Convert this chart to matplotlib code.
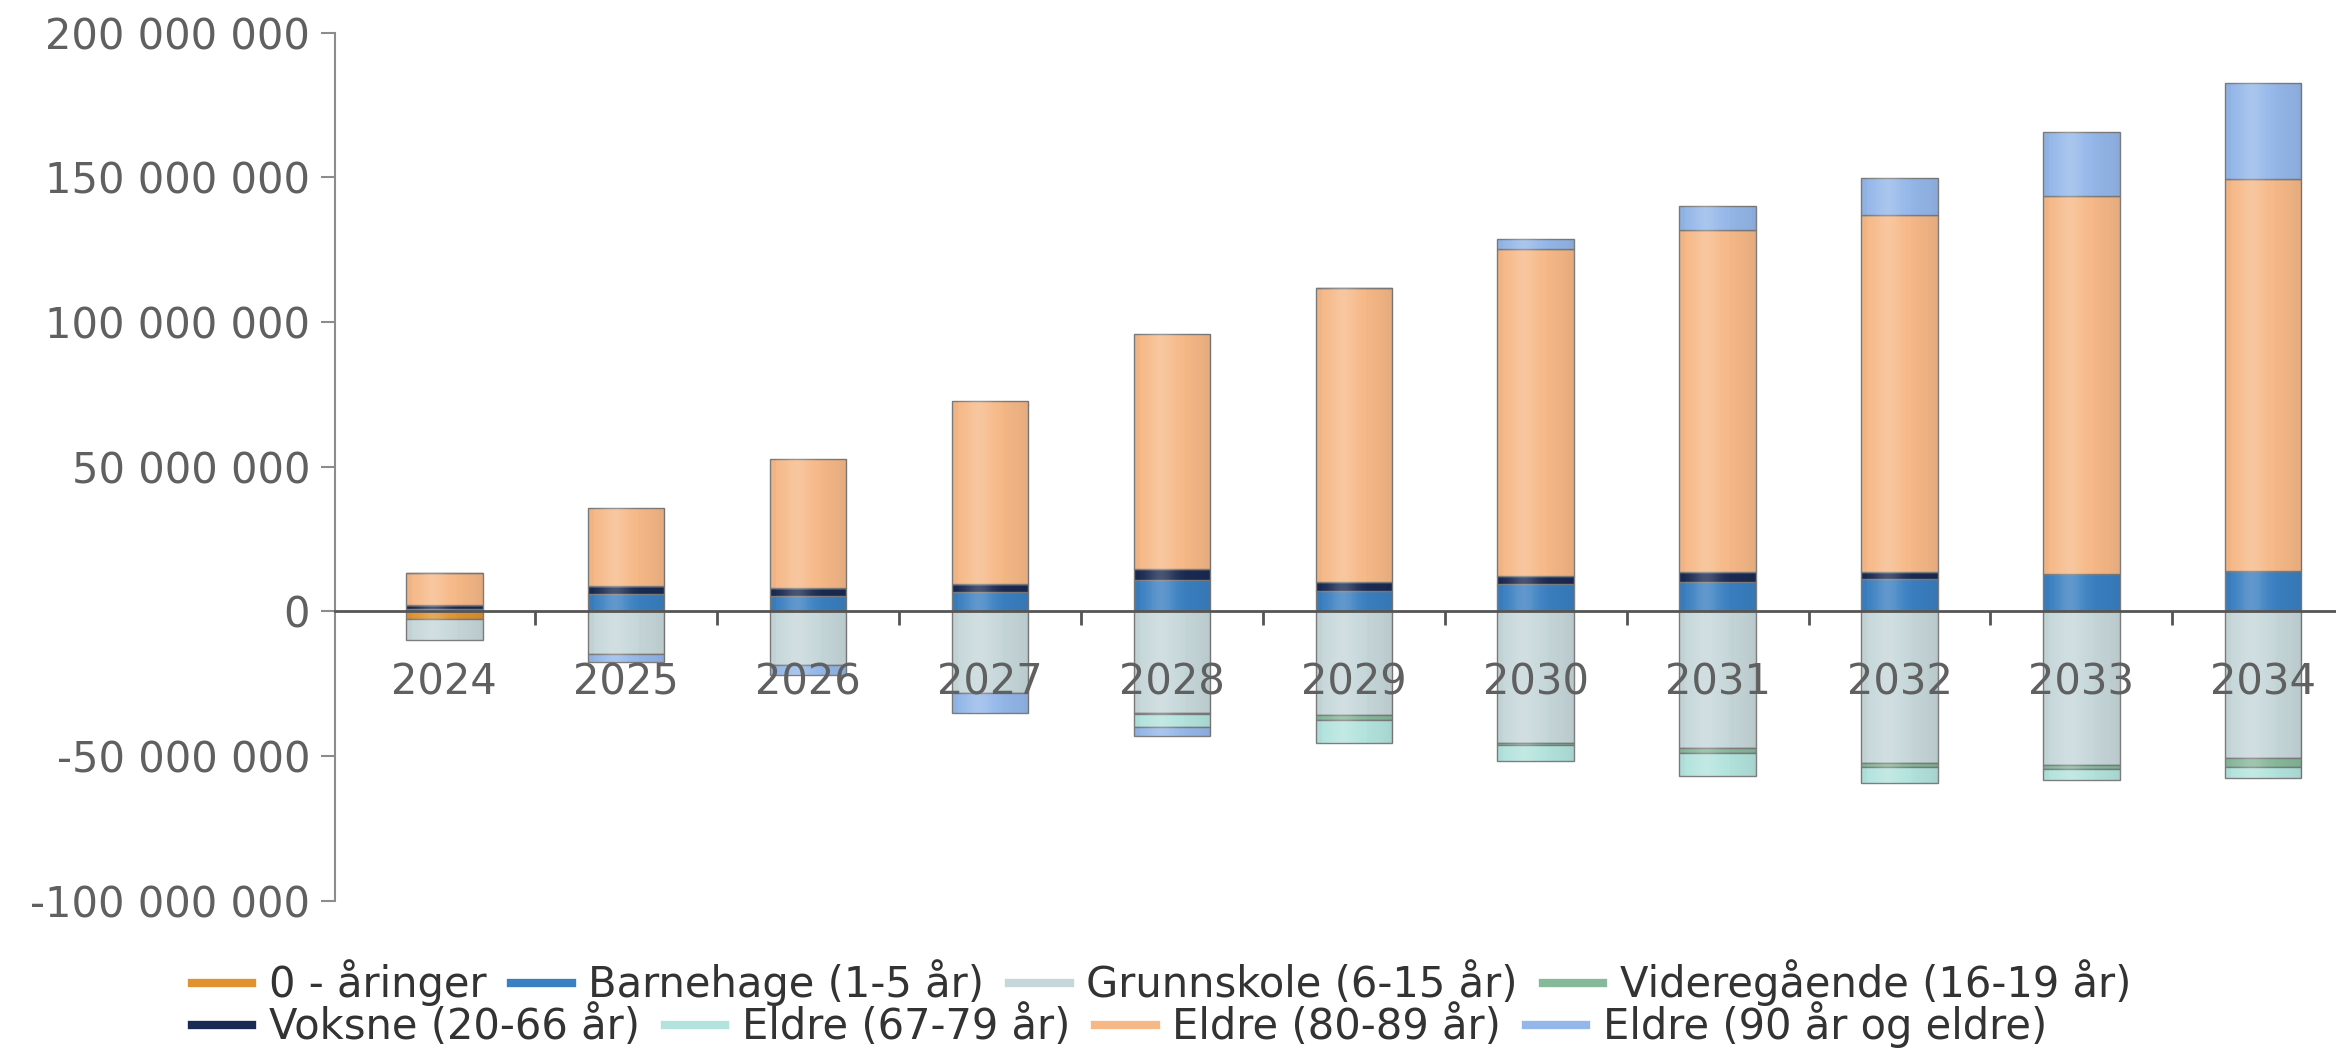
import numpy as np
import matplotlib.pyplot as plt
from matplotlib.ticker import FuncFormatter, FixedLocator
from matplotlib.lines import Line2D

plt.rcParams['font.family'] = ['DejaVu Sans']

# ------------------------------------------------------------------------------
# D A T A  (mill.)
years = ['2024', '2025', '2026', '2027', '2028', '2029', '2030', '2031', '2032', '2033', '2034']

null_aar = [-2.5, 0, 0, 0, 0, 0, 0, 0, 0, 0, 0]
barnehage = [0.8, 6.1, 5.5, 6.7, 10.7, 7.2, 9.5, 10.1, 11.2, 13.0, 14.1]
grunnskole = [-7.5, -14.6, -18.5, -28.3, -35.0, -35.8, -45.5, -47.3, -52.2, -53.0, -50.7]
videregaende = [0, 0, 0, 0, -0.5, -1.7, -0.5, -1.7, -1.4, -1.5, -2.9]
voksne = [1.5, 2.8, 2.6, 2.8, 4.0, 2.9, 2.9, 3.4, 2.3, 0, 0]
eldre_67 = [0, 0, 0, 0, -4.3, -8.0, -5.8, -8.0, -5.7, -3.7, -4.0]
eldre_80 = [11.0, 27.0, 44.7, 63.3, 81.2, 101.7, 112.7, 118.3, 123.5, 130.6, 135.2]
eldre_90 = [0, -2.8, -3.5, -6.9, -3.4, 0, 3.6, 8.2, 12.8, 22.1, 33.3]

series = [
    ('0 - åringer', null_aar, '#e0922e'),
    ('Barnehage (1-5 år)', barnehage, '#3a7fc1'),
    ('Grunnskole (6-15 år)', grunnskole, '#c6d7da'),
    ('Videregående (16-19 år)', videregaende, '#86b89a'),
    ('Voksne (20-66 år)', voksne, '#1b2a52'),
    ('Eldre (67-79 år)', eldre_67, '#b3e3dd'),
    ('Eldre (80-89 år)', eldre_80, '#f6b887'),
    ('Eldre (90 år og eldre)', eldre_90, '#94b7e9'),
]

# sylinder-effekt: lys stripe litt til venstre, mørkere kanter
t = np.linspace(0, 1, 64)
hi = 0.20 * np.exp(-((t - 0.35) / 0.18) ** 2)
lo = 0.07 * (np.abs(t - 0.4) / 0.6) ** 2
shade = np.zeros((1, t.size, 4))
shade[0, :, :3] = np.where(hi > lo, 1.0, 0.0)[:, None]
shade[0, :, 3] = np.maximum(hi, lo)

# ------------------------------------------------------------------------------
# P L O T
fig = plt.figure(figsize=(23.36, 10.5), dpi=100)
ax = fig.add_axes([0.1435, 0.142, 0.8565, 0.827])

x = np.arange(len(years))
pos_base = np.zeros(len(years))
neg_base = np.zeros(len(years))
for name, vals, col in series:
    v = np.array(vals) * 1e6
    base = np.where(v >= 0, pos_base, neg_base)
    bars = ax.bar(x, v, bottom=base, width=0.42, color=col, edgecolor='#7d7d7d',
                  linewidth=1.0, zorder=1)
    for b in bars:
        if b.get_height() == 0:
            continue
        x0, y0 = b.get_x(), b.get_y()
        im = ax.imshow(shade, extent=(x0, x0 + b.get_width(), y0, y0 + b.get_height()),
                       aspect='auto', interpolation='bilinear', zorder=1.05)
        im.set_clip_path(b)
    pos_base += np.where(v >= 0, v, 0)
    neg_base += np.where(v < 0, v, 0)

ax.set_xlim(-0.6, 10.4)
ax.set_ylim(-100e6, 200e6)

for s in ['top', 'right']:
    ax.spines[s].set_visible(False)
ax.spines['left'].set_color('#8c8c8c')
ax.spines['left'].set_linewidth(1.5)
ax.spines['bottom'].set_position(('data', 0))
ax.spines['bottom'].set_color('#555555')
ax.spines['bottom'].set_linewidth(2)
ax.spines['bottom'].set_zorder(3)

ax.yaxis.set_major_locator(FixedLocator(np.arange(-100e6, 200e6 + 1, 50e6)))
ax.yaxis.set_major_formatter(FuncFormatter(lambda v, p: f"{int(round(v)):,}".replace(',', ' ')))
ax.tick_params(axis='y', labelsize=30, colors='#8c8c8c', labelcolor='#606060',
               length=10, width=1.5, pad=8)

ax.set_xticks(x)
ax.set_xticklabels(years)
ax.set_xticks(x[:-1] + 0.5, minor=True)
ax.tick_params(axis='x', which='major', length=0, labelsize=30, labelcolor='#606060', pad=36)
ax.tick_params(axis='x', which='minor', length=10, width=2, color='#555555', direction='out')

# L E G E N D E
handles = [Line2D([0], [0], color=c, lw=6) for _, _, c in series]
labels = [n for n, _, _ in series]
kw = dict(ncol=4, frameon=False, fontsize=30, handlelength=1.45, handletextpad=0.4,
          columnspacing=0.6, borderaxespad=0, borderpad=0, labelcolor='#333333')
leg1 = fig.legend([handles[i] for i in (0, 1, 2, 3)], [labels[i] for i in (0, 1, 2, 3)],
                  loc='center left', bbox_to_anchor=(0.082, 0.064), **kw)
leg2 = fig.legend([handles[i] for i in (4, 5, 6, 7)], [labels[i] for i in (4, 5, 6, 7)],
                  loc='center left', bbox_to_anchor=(0.082, 0.024), **kw)

fig.savefig('out.png', dpi=100, facecolor='white')
